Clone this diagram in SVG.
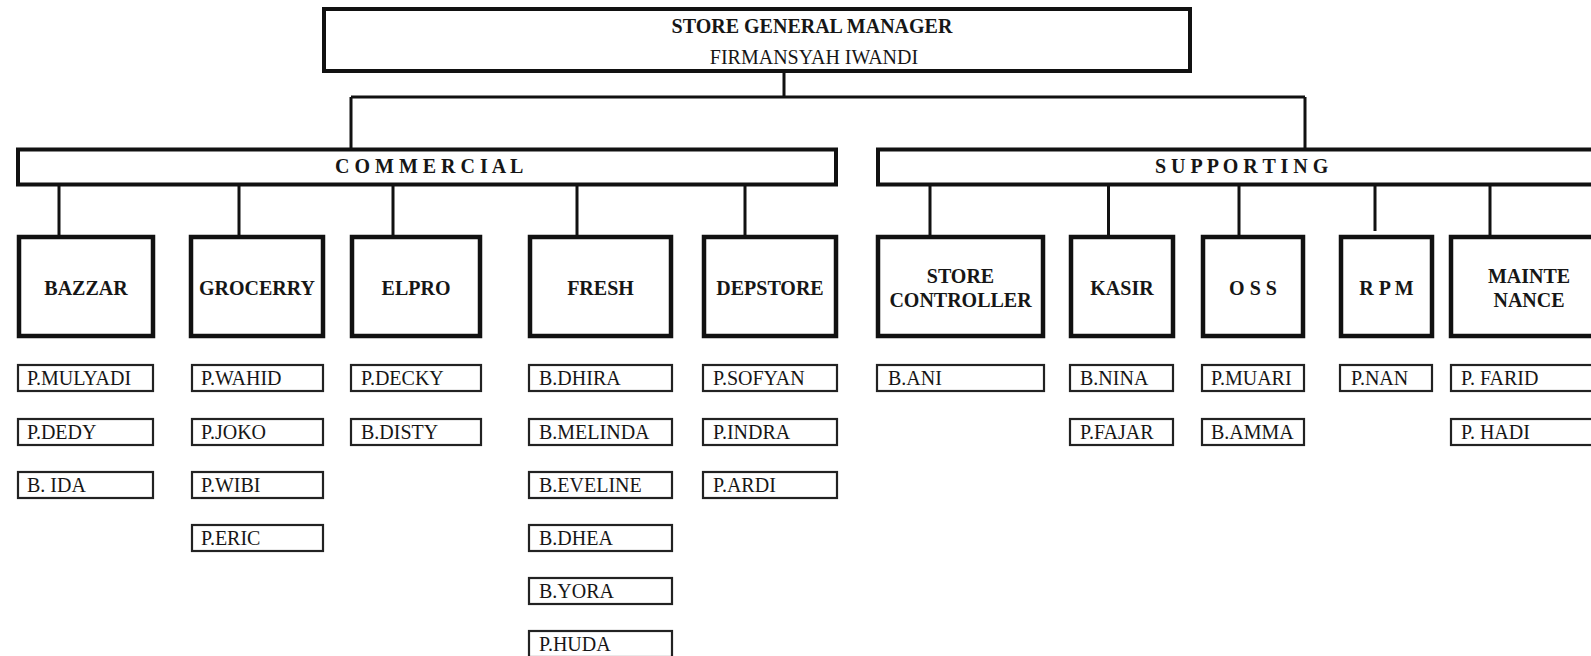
<svg xmlns="http://www.w3.org/2000/svg" width="1591" height="656" viewBox="0 0 1591 656">
  <style>
    .head { fill: #fff; stroke: #111; stroke-width: 4; }
    .dept { fill: #fff; stroke: #111; stroke-width: 4.5; }
    .name { fill: #fff; stroke: #222; stroke-width: 2.2; }
    .link { stroke: #111; stroke-width: 3; fill: none; }
    text { font-family: "Liberation Serif", "Times New Roman", serif; font-size: 20px; fill: #161616; }
    .b { font-weight: bold; }
    .c { text-anchor: middle; }
  </style>
  <rect width="1591" height="656" fill="#fff"/>

  <!-- connectors -->
  <g id="connectors">
    <path class="link" d="M784 73V97 M351 97H1305 M351 97V148 M1305 97V148"/>
    <path class="link" d="M59 186V235 M239 186V235 M393 186V235 M577 186V235 M745 186V235"/>
    <path class="link" d="M930 186V235 M1108.5 186V235 M1239 186V235 M1375 186V231 M1490 186V235"/>
  </g>

  <!-- top manager -->
  <g id="gm">
    <rect class="head" x="324" y="9" width="866" height="62"/>
    <text class="b c" x="812" y="33">STORE GENERAL MANAGER</text>
    <text class="c" x="814" y="64">FIRMANSYAH IWANDI</text>
  </g>

  <!-- divisions -->
  <g id="commercial">
    <rect class="head" x="18" y="149.5" width="818" height="35"/>
    <text class="b" x="335" y="173">C O M M E R C I A L</text>
  </g>
  <g id="supporting">
    <rect class="head" x="878" y="149.5" width="740" height="35"/>
    <text class="b" x="1155" y="173">S U P P O R T I N G</text>
  </g>

  <!-- departments -->
  <g id="bazzar">
    <rect class="dept" x="19" y="237" width="134" height="99"/>
    <text class="b c" x="86" y="295">BAZZAR</text>
  </g>
  <g id="grocerry">
    <rect class="dept" x="191" y="237" width="132" height="99"/>
    <text class="b c" x="257" y="295">GROCERRY</text>
  </g>
  <g id="elpro">
    <rect class="dept" x="352" y="237" width="128" height="99"/>
    <text class="b c" x="416" y="295">ELPRO</text>
  </g>
  <g id="fresh">
    <rect class="dept" x="530" y="237" width="141" height="99"/>
    <text class="b c" x="600.5" y="295">FRESH</text>
  </g>
  <g id="depstore">
    <rect class="dept" x="704" y="237" width="132" height="99"/>
    <text class="b c" x="770" y="295">DEPSTORE</text>
  </g>
  <g id="store-controller">
    <rect class="dept" x="878" y="237" width="165" height="99"/>
    <text class="b c" x="960.5" y="283">STORE</text>
    <text class="b c" x="960.5" y="307">CONTROLLER</text>
  </g>
  <g id="kasir">
    <rect class="dept" x="1071" y="237" width="102" height="99"/>
    <text class="b c" x="1122" y="295">KASIR</text>
  </g>
  <g id="oss">
    <rect class="dept" x="1203" y="237" width="100" height="99"/>
    <text class="b c" x="1253" y="295">O S S</text>
  </g>
  <g id="rpm">
    <rect class="dept" x="1341" y="237" width="91" height="99"/>
    <text class="b c" x="1386.5" y="295">R P M</text>
  </g>
  <g id="maintenance">
    <rect class="dept" x="1451" y="237" width="160" height="99"/>
    <text class="b c" x="1529" y="283">MAINTE</text>
    <text class="b c" x="1529" y="307">NANCE</text>
  </g>

  <!-- staff -->
  <g id="staff-bazzar">
    <rect class="name" x="18" y="365" width="135" height="26"/><text x="27" y="385">P.MULYADI</text>
    <rect class="name" x="18" y="419" width="135" height="26"/><text x="27" y="439">P.DEDY</text>
    <rect class="name" x="18" y="472" width="135" height="26"/><text x="27" y="492">B. IDA</text>
  </g>
  <g id="staff-grocerry">
    <rect class="name" x="192" y="365" width="131" height="26"/><text x="201" y="385">P.WAHID</text>
    <rect class="name" x="192" y="419" width="131" height="26"/><text x="201" y="439">P.JOKO</text>
    <rect class="name" x="192" y="472" width="131" height="26"/><text x="201" y="492">P.WIBI</text>
    <rect class="name" x="192" y="525" width="131" height="26"/><text x="201" y="545">P.ERIC</text>
  </g>
  <g id="staff-elpro">
    <rect class="name" x="351" y="365" width="130" height="26"/><text x="361" y="385">P.DECKY</text>
    <rect class="name" x="351" y="419" width="130" height="26"/><text x="361" y="439">B.DISTY</text>
  </g>
  <g id="staff-fresh">
    <rect class="name" x="529" y="365" width="143" height="26"/><text x="539" y="385">B.DHIRA</text>
    <rect class="name" x="529" y="419" width="143" height="26"/><text x="539" y="439">B.MELINDA</text>
    <rect class="name" x="529" y="472" width="143" height="26"/><text x="539" y="492">B.EVELINE</text>
    <rect class="name" x="529" y="525" width="143" height="26"/><text x="539" y="545">B.DHEA</text>
    <rect class="name" x="529" y="578" width="143" height="26"/><text x="539" y="598">B.YORA</text>
    <rect class="name" x="529" y="631" width="143" height="26"/><text x="539" y="651">P.HUDA</text>
  </g>
  <g id="staff-depstore">
    <rect class="name" x="703" y="365" width="134" height="26"/><text x="713" y="385">P.SOFYAN</text>
    <rect class="name" x="703" y="419" width="134" height="26"/><text x="713" y="439">P.INDRA</text>
    <rect class="name" x="703" y="472" width="134" height="26"/><text x="713" y="492">P.ARDI</text>
  </g>
  <g id="staff-store-controller">
    <rect class="name" x="877" y="365" width="167" height="26"/><text x="888" y="385">B.ANI</text>
  </g>
  <g id="staff-kasir">
    <rect class="name" x="1070" y="365" width="103" height="26"/><text x="1080" y="385">B.NINA</text>
    <rect class="name" x="1070" y="419" width="103" height="26"/><text x="1080" y="439">P.FAJAR</text>
  </g>
  <g id="staff-oss">
    <rect class="name" x="1202" y="365" width="102" height="26"/><text x="1211" y="385">P.MUARI</text>
    <rect class="name" x="1202" y="419" width="102" height="26"/><text x="1211" y="439">B.AMMA</text>
  </g>
  <g id="staff-rpm">
    <rect class="name" x="1340" y="365" width="92" height="26"/><text x="1351" y="385">P.NAN</text>
  </g>
  <g id="staff-maintenance">
    <rect class="name" x="1451" y="365" width="160" height="26"/><text x="1461" y="385">P. FARID</text>
    <rect class="name" x="1451" y="419" width="160" height="26"/><text x="1461" y="439">P. HADI</text>
  </g>
</svg>
